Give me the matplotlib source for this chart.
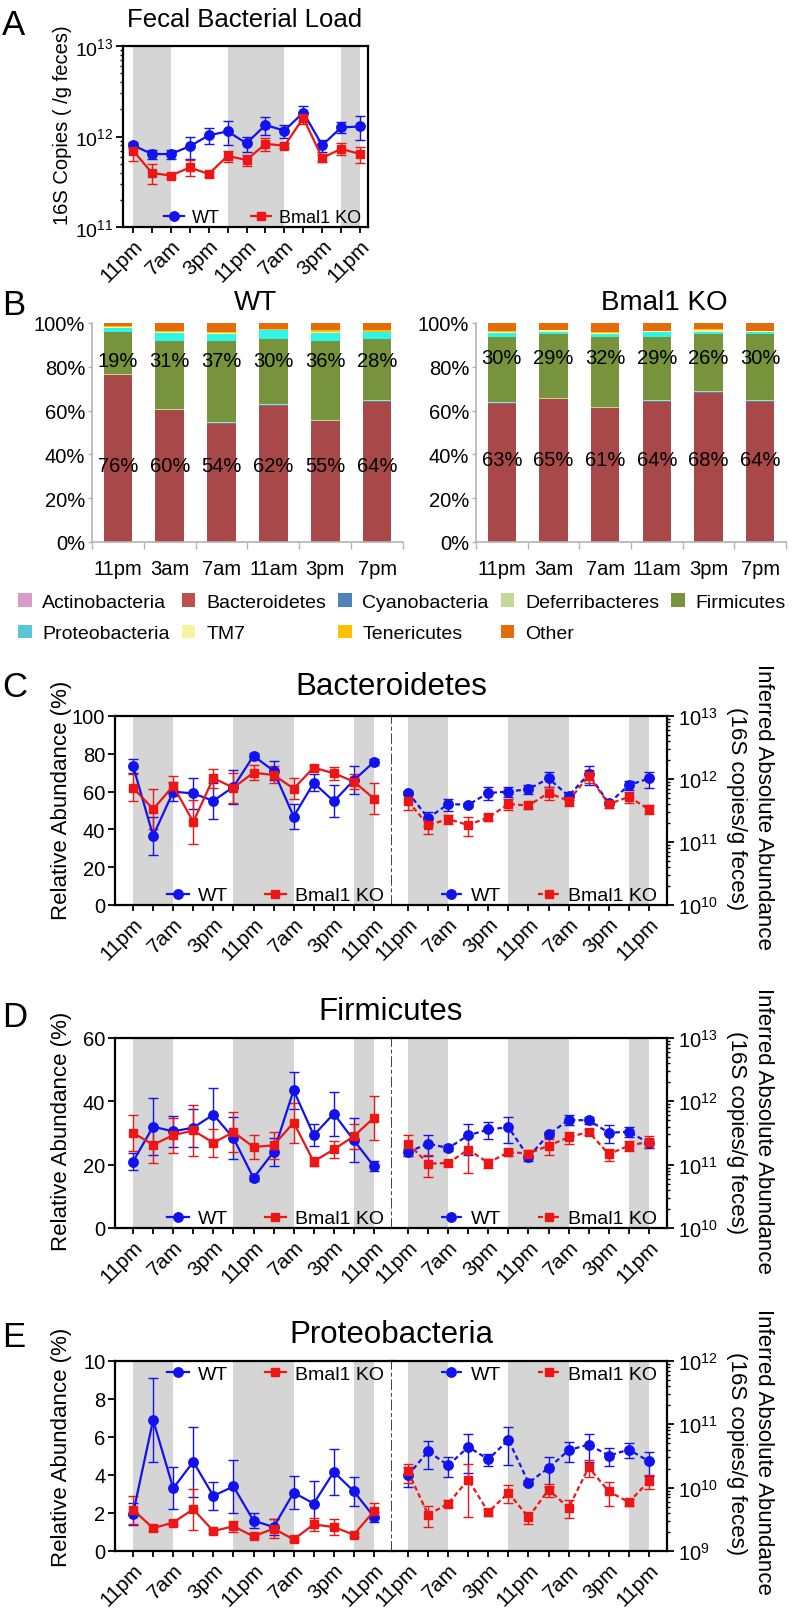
import numpy as np
import matplotlib
matplotlib.use("Agg")
import matplotlib.pyplot as plt
from matplotlib.ticker import FixedLocator, LogLocator, NullFormatter, FuncFormatter, FixedFormatter
from matplotlib.patches import Patch

plt.rcParams['font.family'] = ['Liberation Sans', 'DejaVu Sans']
plt.rcParams['mathtext.fontset'] = 'custom'
plt.rcParams['mathtext.rm'] = 'Liberation Sans'
plt.rcParams['mathtext.it'] = 'Liberation Sans:italic'
plt.rcParams['mathtext.bf'] = 'Liberation Sans:bold'

# ---------------- data ----------------
times = ['11pm', '3am', '7am', '11am', '3pm', '7pm', '11pm',
         '3am', '7am', '11am', '3pm', '7pm', '11pm']
dark_phase = [(0, 2), (5, 8), (11, 12)]   # index ranges of dark phase (7pm-7am)
groups = ['WT', 'Bmal1 KO']

# A: fecal bacterial load (16S copies / g feces)
load_wt = [8.0e11, 6.4e11, 6.4e11, 7.8e11, 1.03e12, 1.14e12, 8.4e11, 1.34e12, 1.16e12, 1.84e12, 8.0e11, 1.26e12, 1.29e12]
load_wt_sem = [0.5e11, 0.7e11, 0.7e11, 2.2e11, 2.1e11, 3.3e11, 1.6e11, 3.0e11, 1.9e11, 3.5e11, 1.2e11, 1.7e11, 3.8e11]
load_ko = [7.0e11, 3.95e11, 3.7e11, 4.55e11, 3.85e11, 6.1e11, 5.5e11, 8.3e11, 7.9e11, 1.6e12, 5.8e11, 7.3e11, 6.4e11]
load_ko_sem = [1.6e11, 0.98e11, 0.25e11, 0.9e11, 0.25e11, 0.9e11, 0.75e11, 1.3e11, 0.5e11, 2.2e11, 0.6e11, 1.1e11, 1.34e11]

# B: phylum composition (%)
bar_times = ['11pm', '3am', '7am', '11am', '3pm', '7pm']
phyla = ['Actinobacteria', 'Bacteroidetes', 'Cyanobacteria', 'Deferribacteres', 'Firmicutes',
         'Proteobacteria', 'TM7', 'Tenericutes', 'Other']
wt_actinobacteria = [0.1, 0.1, 0.1, 0.1, 0.1, 0.1]
wt_bacteroidetes = [76, 60, 54, 62, 55, 64]
wt_cyanobacteria = [0.3, 0.3, 0.3, 0.3, 0.3, 0.3]
wt_deferribacteres = [0.3, 0.4, 0.5, 0.4, 0.5, 0.4]
wt_firmicutes = [19, 31, 37, 30, 36, 28]
wt_proteobacteria = [2.2, 3.8, 3.0, 3.8, 3.5, 3.0]
wt_tm7 = [0.3, 0.3, 0.4, 0.3, 0.5, 0.3]
wt_tenericutes = [0.4, 0.6, 0.7, 0.5, 0.7, 0.5]
wt_other = [1.4, 3.5, 4.0, 2.6, 3.4, 3.4]

ko_actinobacteria = [0.1, 0.1, 0.1, 0.1, 0.1, 0.1]
ko_bacteroidetes = [63, 65, 61, 64, 68, 64]
ko_cyanobacteria = [0.3, 0.3, 0.3, 0.3, 0.4, 0.3]
ko_deferribacteres = [0.3, 0.4, 0.4, 0.4, 0.5, 0.4]
ko_firmicutes = [30, 29, 32, 29, 26, 30]
ko_proteobacteria = [1.8, 1.3, 1.2, 2.0, 1.0, 1.0]
ko_tm7 = [0.4, 0.5, 0.4, 0.4, 0.6, 0.4]
ko_tenericutes = [0.3, 0.4, 0.3, 0.3, 0.6, 0.3]
ko_other = [3.8, 3.0, 4.3, 3.5, 2.8, 3.5]

# C: Bacteroidetes
bact_rel_wt = [73.6, 36.6, 60.0, 59.0, 55.1, 62.5, 78.9, 71.0, 46.8, 64.6, 54.9, 66.0, 75.7]
bact_rel_wt_sem = [3.5, 10, 5, 8, 9.5, 9, 1.5, 5, 6.5, 4.5, 8.5, 7.5, 1.5]
bact_rel_ko = [62.1, 50.7, 63.0, 44.0, 67.1, 62.1, 70.0, 68.8, 61.6, 72.7, 69.7, 65.3, 56.3]
bact_rel_ko_sem = [7, 10.5, 5.5, 11.5, 5, 8, 4, 4.5, 5.7, 1.5, 3.5, 4, 8]
bact_abs_wt = [6.1e11, 2.4e11, 4.0e11, 3.9e11, 6.0e11, 6.3e11, 6.9e11, 1.02e12, 5.4e11, 1.2e12, 4.1e11, 8.0e11, 1.02e12]
bact_abs_wt_sem = [0.4e11, 0.6e11, 0.9e11, 0.3e11, 1.4e11, 1.1e11, 1.1e11, 2.6e11, 0.7e11, 3.9e11, 0.3e11, 1.4e11, 2.9e11]
bact_abs_ko = [4.4e11, 1.86e11, 2.3e11, 1.86e11, 2.46e11, 4.0e11, 3.8e11, 6.0e11, 4.5e11, 1.13e12, 4.0e11, 5.2e11, 3.3e11]
bact_abs_ko_sem = [1.2e11, 0.52e11, 0.4e11, 0.6e11, 0.3e11, 0.8e11, 0.5e11, 1.4e11, 0.75e11, 2.6e11, 0.5e11, 1.1e11, 0.5e11]

# D: Firmicutes
firm_rel_wt = [21.0, 32.0, 30.5, 31.7, 35.8, 28.4, 15.8, 24.0, 43.5, 29.3, 36.1, 27.7, 19.5]
firm_rel_wt_sem = [2.7, 9, 5, 6, 8.5, 6.5, 1, 4.5, 5.8, 3.4, 7, 7, 1.6]
firm_rel_ko = [30.0, 26.3, 29.3, 30.8, 26.9, 30.3, 25.6, 26.1, 33.3, 21.0, 24.8, 29.0, 34.8]
firm_rel_ko_sem = [5.8, 5.8, 5.5, 8, 4.5, 6.3, 3.8, 4.2, 6.3, 1.5, 2.8, 4, 7]
firm_abs_wt = [1.58e11, 2.15e11, 1.83e11, 2.9e11, 3.6e11, 3.9e11, 1.32e11, 3.0e11, 5.1e11, 5.0e11, 3.2e11, 3.3e11, 2.2e11]
firm_abs_wt_sem = [0.2e11, 0.8e11, 0.2e11, 1.5e11, 1.1e11, 1.7e11, 0.17e11, 0.3e11, 0.9e11, 0.6e11, 1.0e11, 0.6e11, 0.35e11]
firm_abs_ko = [2.15e11, 1.04e11, 1.06e11, 1.73e11, 1.07e11, 1.58e11, 1.5e11, 2.0e11, 2.7e11, 3.3e11, 1.46e11, 2.0e11, 2.3e11]
firm_abs_ko_sem = [0.8e11, 0.4e11, 0.1e11, 1.0e11, 0.17e11, 0.2e11, 0.18e11, 0.57e11, 0.58e11, 0.4e11, 0.33e11, 0.34e11, 0.5e11]

# E: Proteobacteria
prot_rel_wt = [1.97, 6.9, 3.3, 4.7, 2.9, 3.4, 1.6, 1.26, 3.07, 2.5, 4.16, 3.14, 1.8]
prot_rel_wt_sem = [0.58, 2.2, 1.1, 1.85, 0.75, 1.4, 0.38, 0.42, 0.87, 1.2, 1.2, 0.75, 0.26]
prot_rel_ko = [2.17, 1.2, 1.5, 2.2, 1.05, 1.3, 0.77, 1.18, 0.61, 1.4, 1.26, 0.86, 2.1]
prot_rel_ko_sem = [0.75, 0.15, 0.15, 1.07, 0.1, 0.28, 0.1, 0.5, 0.1, 0.33, 0.42, 0.1, 0.43]
prot_abs_wt = [1.57e10, 3.75e10, 2.25e10, 4.4e10, 2.8e10, 5.7e10, 1.2e10, 2.04e10, 3.9e10, 4.8e10, 3.2e10, 4.0e10, 2.6e10]
prot_abs_wt_sem = [0.55e10, 1.8e10, 0.8e10, 2.7e10, 0.64e10, 3.4e10, 0.11e10, 1.0e10, 1.35e10, 2.3e10, 1.0e10, 1.1e10, 1.06e10]
prot_abs_ko = [1.8e10, 3.75e9, 5.6e9, 1.34e10, 4.1e9, 8.3e9, 3.4e9, 9.3e9, 4.8e9, 2.1e10, 8.7e9, 5.9e9, 1.27e10]
prot_abs_ko_sem = [0.6e10, 1.4e9, 0.7e9, 1.0e10, 0.56e9, 2.6e9, 0.7e9, 2.3e9, 1.5e9, 0.6e10, 3.6e9, 0.8e9, 0.3e10]

# ---------------- style ----------------
BLUE = '#1212EE'
RED = '#EE1515'
SHADE = '#D5D5D5'
bar_colors = ['#D99BC8', '#A84848', '#4F81BD', '#C4D79B', '#77933C',
              '#2EF5EA', '#FFF59A', '#FFC000', '#E46C0A']
legend_colors = ['#D99BC8', '#C0504D', '#4F81BD', '#C4D79B', '#77933C',
                 '#5BC6D9', '#F9F29E', '#FFC000', '#E46C0A']
TIME_LABEL_SIZE = 15

W, H = 796, 1615
fig = plt.figure(figsize=(W / 100, H / 100), dpi=100)
time_axes = []


def rect(l, t, r, b):
    return [l / W, 1 - b / H, (r - l) / W, (b - t) / H]


def ftext(x, y, s, **kw):
    fig.text(x / W, 1 - y / H, s, **kw)


def pow10(v, p):
    return r'$10^{%d}$' % int(round(np.log10(v)))


def setup_x(ax, xlim):
    x = np.arange(len(times))
    ax.set_xlim(*xlim)
    ax.xaxis.set_major_locator(FixedLocator(x))
    ax.xaxis.set_major_formatter(FixedFormatter([t if i % 2 == 0 else '' for i, t in enumerate(times)]))
    ax.tick_params(axis='x', direction='out', length=4.5, width=1.3, pad=2,
                   labelsize=TIME_LABEL_SIZE, labelrotation=45)
    time_axes.append(ax)


def draw_series(ax, wt, wt_sem, ko, ko_sem, dashed):
    x = np.arange(len(times))
    for a, b in dark_phase:
        ax.axvspan(a, b, color=SHADE, lw=0, zorder=0)
    ls = (0, (2.2, 1.4)) if dashed else '-'
    handles = []
    for vals, sem, col, mk, ms in [(wt, wt_sem, BLUE, 'o', 6.8), (ko, ko_sem, RED, 's', 6.2)]:
        eb = ax.errorbar(x, vals, yerr=sem, color=col, marker=mk, ms=ms, lw=1.6, ls=ls,
                         elinewidth=1.0, capsize=3.6, capthick=1.0, zorder=3)
        handles.append(eb.lines[0])
    return handles


def add_legend(ax, handles, cx, cy, fs=14, cs=1.9):
    ax.legend(handles, groups, loc='center', bbox_to_anchor=(cx, cy), ncol=2, frameon=False,
              fontsize=fs, handlelength=1.1, handletextpad=0.45, columnspacing=cs,
              borderpad=0, borderaxespad=0)


def style_frame(ax):
    for s in ax.spines.values():
        s.set_linewidth(1.6)
        s.set_color('black')


# ---------------- Panel A ----------------
axA = fig.add_axes(rect(123, 47, 368, 228))
hA = draw_series(axA, load_wt, load_wt_sem, load_ko, load_ko_sem, dashed=False)
axA.set_yscale('log')
axA.set_ylim(1e11, 1e13)
axA.yaxis.set_major_locator(FixedLocator([1e11, 1e12, 1e13]))
axA.yaxis.set_major_formatter(FuncFormatter(pow10))
axA.yaxis.set_minor_locator(LogLocator(base=10, subs=np.arange(2, 10), numticks=50))
axA.yaxis.set_minor_formatter(NullFormatter())
axA.tick_params(axis='y', which='major', length=5, width=1.3, labelsize=14, pad=2)
axA.tick_params(axis='y', which='minor', length=2.5, width=1.0)
setup_x(axA, (-0.53, 12.42))
style_frame(axA)
add_legend(axA, hA, 0.57, 0.05, fs=13, cs=1.7)

ftext(2, 35, 'A', fontsize=25, ha='left', va='baseline')
ftext(245, 27, 'Fecal Bacterial Load', fontsize=18.5, ha='center', va='baseline')
ftext(63, 125, '16S Copies ( /g feces)', fontsize=14.5, rotation=90, ha='center', va='center')

# ---------------- Panel B ----------------
wt_table = [wt_actinobacteria, wt_bacteroidetes, wt_cyanobacteria, wt_deferribacteres, wt_firmicutes,
            wt_proteobacteria, wt_tm7, wt_tenericutes, wt_other]
ko_table = [ko_actinobacteria, ko_bacteroidetes, ko_cyanobacteria, ko_deferribacteres, ko_firmicutes,
            ko_proteobacteria, ko_tm7, ko_tenericutes, ko_other]

GRAY = '#B3B3B3'


def draw_bars(ax, table, bact, firm, y_bact, y_firm):
    x = np.arange(len(bar_times))
    bottom = np.zeros(len(bar_times))
    for vals, col in zip(table, bar_colors):
        v = np.array(vals, dtype=float)
        ax.bar(x, v, 0.55, bottom=bottom, color=col, lw=0, zorder=2)
        bottom += v
    for i in x:
        ax.text(i, y_bact, '%d%%' % bact[i], ha='center', va='baseline', fontsize=14.5, zorder=4)
        ax.text(i, y_firm, '%d%%' % firm[i], ha='center', va='baseline', fontsize=14.5, zorder=4)
    ax.set_xlim(-0.5, len(bar_times) - 0.5)
    ax.set_ylim(0, 100)
    ax.set_xticks(np.arange(-0.5, len(bar_times), 1.0))
    ax.set_xticklabels([])
    ax.set_xticks(x, minor=True)
    ax.set_xticklabels(bar_times, minor=True)
    ax.tick_params(axis='x', which='major', length=5, width=1, color=GRAY, direction='out')
    ax.tick_params(axis='x', which='minor', length=0, pad=12, labelsize=14.5)
    ax.set_yticks(np.arange(0, 101, 20))
    ax.set_yticklabels(['%d%%' % v for v in range(0, 101, 20)])
    ax.tick_params(axis='y', length=3, width=1, color=GRAY, pad=2, labelsize=14.5)
    for s in ['top', 'right']:
        ax.spines[s].set_visible(False)
    for s in ['left', 'bottom']:
        ax.spines[s].set_color(GRAY)
        ax.spines[s].set_linewidth(1.2)


axBw = fig.add_axes(rect(92, 324, 403, 543))
draw_bars(axBw, wt_table, wt_bacteroidetes, wt_firmicutes, 32.5, 80.5)
axBk = fig.add_axes(rect(476, 324, 786, 543))
draw_bars(axBk, ko_table, ko_bacteroidetes, ko_firmicutes, 35.0, 81.8)

ftext(2, 315, 'B', fontsize=25, ha='left', va='baseline')
ftext(256, 310, 'WT', fontsize=20, ha='center', va='baseline')
ftext(664, 310, 'Bmal1 KO', fontsize=20, ha='center', va='baseline')

order = [0, 5, 1, 6, 2, 7, 3, 8, 4]
leg_handles = [Patch(facecolor=legend_colors[i], edgecolor='none') for i in order]
leg_labels = [phyla[i] for i in order]
fig.legend(leg_handles, leg_labels, loc='upper left', bbox_to_anchor=(18 / W, 1 - 594 / H),
           bbox_transform=fig.transFigure, ncol=5, frameon=False, fontsize=14,
           handlelength=0.7, handleheight=0.7, handletextpad=0.55, columnspacing=0.62,
           labelspacing=0.72, borderpad=0, borderaxespad=0)

# ---------------- Panels C, D, E ----------------
panels = [
    ('C', 'Bacteroidetes', 717, 906, 697, 695,
     bact_rel_wt, bact_rel_wt_sem, bact_rel_ko, bact_rel_ko_sem, (0, 100), np.arange(0, 101, 20),
     bact_abs_wt, bact_abs_wt_sem, bact_abs_ko, bact_abs_ko_sem, (1e10, 1e13), 'bottom', 800, 807),
    ('D', 'Firmicutes', 1039, 1229, 1027, 1020,
     firm_rel_wt, firm_rel_wt_sem, firm_rel_ko, firm_rel_ko_sem, (0, 60), np.arange(0, 61, 20),
     firm_abs_wt, firm_abs_wt_sem, firm_abs_ko, firm_abs_ko_sem, (1e10, 1e13), 'bottom', 1131, 1131),
    ('E', 'Proteobacteria', 1362, 1552, 1347, 1343,
     prot_rel_wt, prot_rel_wt_sem, prot_rel_ko, prot_rel_ko_sem, (0, 10), np.arange(0, 11, 2),
     prot_abs_wt, prot_abs_wt_sem, prot_abs_ko, prot_abs_ko_sem, (1e9, 1e12), 'top', 1447, 1452),
]

L, M, R = 115, 392, 667
for (letter, title, top, bot, let_base, tit_base,
     rwt, rwt_s, rko, rko_s, rlim, rticks,
     awt, awt_s, ako, ako_s, alim, legpos, ylab_c, rlab_c) in panels:
    axl = fig.add_axes(rect(L, top, M, bot))
    axr = fig.add_axes(rect(M, top, R, bot))

    hl = draw_series(axl, rwt, rwt_s, rko, rko_s, dashed=False)
    axl.set_ylim(*rlim)
    axl.set_yticks(rticks)
    axl.tick_params(axis='y', length=5, width=1.3, labelsize=14.5, pad=2)
    setup_x(axl, (-0.9, 12.9))
    style_frame(axl)
    axl.spines['right'].set_linestyle((0, (5, 2.5, 1.2, 2.5)))
    axl.spines['right'].set_color('#333333')
    axl.spines['right'].set_linewidth(1.3)
    axl.spines['right'].set_zorder(5)

    hr = draw_series(axr, awt, awt_s, ako, ako_s, dashed=True)
    axr.set_yscale('log')
    axr.set_ylim(*alim)
    dec = [10.0 ** k for k in range(int(np.log10(alim[0])), int(np.log10(alim[1])) + 1)]
    axr.yaxis.set_major_locator(FixedLocator(dec))
    axr.yaxis.set_major_formatter(FuncFormatter(pow10))
    axr.yaxis.set_minor_locator(LogLocator(base=10, subs=np.arange(2, 10), numticks=50))
    axr.yaxis.set_minor_formatter(NullFormatter())
    axr.yaxis.tick_right()
    axr.tick_params(axis='y', which='major', length=5, width=1.3, labelsize=14.5, pad=3)
    axr.tick_params(axis='y', which='minor', length=2.5, width=1.0)
    setup_x(axr, (-0.8, 12.9))
    style_frame(axr)
    axr.spines['left'].set_visible(False)

    ly = 0.05 if legpos == 'bottom' else 0.93
    add_legend(axl, hl, 0.58, ly)
    add_legend(axr, hr, 0.57, ly)

    ftext(2, let_base, letter, fontsize=25, ha='left', va='baseline')
    ftext((L + R) / 2, tit_base, title, fontsize=22.5, ha='center', va='baseline')
    ftext(62, ylab_c, 'Relative Abundance (%)', fontsize=16, rotation=90, ha='center', va='center')
    ftext(764, rlab_c, 'Inferred Absolute Abundance', fontsize=16, rotation=270, ha='center', va='center')
    ftext(737, rlab_c + 2, '(16S copies/g feces)', fontsize=16, rotation=270, ha='center', va='center')

# final alignment of rotated time labels
for ax in time_axes:
    for lbl in ax.get_xticklabels():
        lbl.set_fontsize(TIME_LABEL_SIZE)
        lbl.set_rotation(45)
        lbl.set_ha('right')
        lbl.set_va('top')
        lbl.set_rotation_mode('anchor')

fig.savefig('out.png', dpi=100)
